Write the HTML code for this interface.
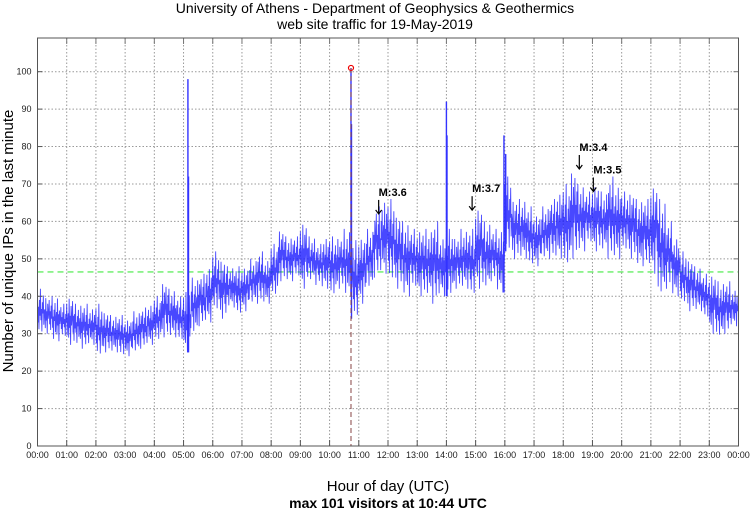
<!DOCTYPE html>
<html><head><meta charset="utf-8"><style>
body{margin:0;background:#fff;width:750px;height:511px;overflow:hidden}
svg text{font-family:"Liberation Sans",sans-serif}
</style></head><body>
<svg id="chart" width="750" height="511" viewBox="0 0 750 511" xmlns="http://www.w3.org/2000/svg">
<text x="375" y="13" font-size="14" text-anchor="middle">University of Athens - Department of Geophysics &amp; Geothermics</text>
<text x="375" y="29" font-size="14" text-anchor="middle">web site traffic for 19-May-2019</text>
<text x="388" y="491" font-size="15" text-anchor="middle">Hour of day (UTC)</text>
<text x="388" y="508" font-size="14" font-weight="bold" text-anchor="middle">max 101 visitors at 10:44 UTC</text>
<text transform="translate(13,241) rotate(-90)" font-size="15" text-anchor="middle">Number of unique IPs in the last minute</text>
<g id="grid"></g><g id="series"></g><g id="ann"></g><g id="axes"></g>
</svg>
<script>
const hoursLo=[30,30,28,29,27,27,26,27,24,25,25,24,24,25,26,27,28,29,29,28,25,30,32,33,36,34,37,35,36,38,38,38,40,44,44,45,42,44,43,42,40,42,40,34,38,42,45,46,44,42,40,42,40,40,38,40,40,42,42,40,42,42,44,41,52,50,50,48,48,50,50,50,48,50,52,54,52,52,50,50,52,50,48,48,46,40,42,40,38,36,36,34,30,29,30,32];
const hoursHi=[42,40,40,38,40,38,38,37,38,36,35,35,34,36,37,38,40,44,42,40,42,45,46,48,52,50,48,48,48,50,52,50,54,58,56,56,60,56,54,56,56,56,58,55,56,58,64,66,66,62,60,58,58,58,60,56,58,56,58,58,64,60,58,58,72,66,66,64,62,64,66,68,70,74,70,68,70,68,72,70,68,68,66,66,70,66,60,56,52,50,48,46,46,44,44,42];
const spikeTimes=[5.15,5.17,10.733,10.75,14.0,14.02,15.97,16.03];
const spikeValues=[98,72,101,86,92,83,83,78];
const yTicks=[0,10,20,30,40,50,60,70,80,90,100];
const xTickLabels=["00:00","01:00","02:00","03:00","04:00","05:00","06:00","07:00","08:00","09:00","10:00","11:00","12:00","13:00","14:00","15:00","16:00","17:00","18:00","19:00","20:00","21:00","22:00","23:00","00:00"];
const avgValue=46.5, maxTime=10.733, maxValue=101;
const quakeLabels=["M:3.6","M:3.7","M:3.4","M:3.5"];
const quakeTimes=[11.68,14.88,18.55,19.03];
const quakeValues=[62,63,74,68];

const L=37.5,R=738.5,T=38,B=446;
const X=h=>L+(R-L)*h/24;
const Y=v=>B-(v/109)*(B-T);
const NS="http://www.w3.org/2000/svg";
function mk(tag,parent,attrs){const e=document.createElementNS(NS,tag);for(const k in attrs)e.setAttribute(k,attrs[k]);document.getElementById(parent).appendChild(e);return e;}

yTicks.forEach(v=>{
  const g=mk('line','grid',{x1:L,x2:R,y1:Y(v),y2:Y(v),stroke:'#999','stroke-dasharray':'1.5,2','stroke-width':1});
  
  
  const t=mk('text','axes',{x:L-6,y:Y(v)+3,'font-size':9,'text-anchor':'end',fill:'#222'});t.textContent=v;
  
  
  mk('line','axes',{x1:L,x2:L+5,y1:Y(v),y2:Y(v),stroke:'#555'});
  mk('line','axes',{x1:R-5,x2:R,y1:Y(v),y2:Y(v),stroke:'#777'});
});
xTickLabels.forEach((s,i)=>{
  if(i>0&&i<24){const g=mk('line','grid',{x1:X(i),x2:X(i),y1:T,y2:B,stroke:'#999','stroke-dasharray':'1.5,2','stroke-width':1});
  
  }
  mk('line','axes',{x1:X(i),x2:X(i),y1:B-6,y2:B,stroke:'#555'});
  mk('line','axes',{x1:X(i),x2:X(i),y1:T,y2:T+6,stroke:'#777'});
  const t=mk('text','axes',{x:X(i),y:B+12,'font-size':9,'text-anchor':'middle',fill:'#222'});t.textContent=s;
  
  
});
const fr=mk('rect','axes',{x:L,y:T,width:R-L,height:B-T,fill:'none',stroke:'#555','stroke-width':1});



const avg=mk('line','series',{x1:L,x2:R,y1:Y(avgValue),y2:Y(avgValue),stroke:'#66ee66','stroke-dasharray':'6,4','stroke-width':1.3});



// jitter pattern: fixed fractional positions within each bin's range (style only)
const pat=[0.9,0.25,0.6,0.1,0.75,0.4,1,0.3,0.55,0.05,0.7,0.45,0.85,0.2,0.5,0.65,0.15,0.95,0.35,0.6,0,0.8,0.4,0.55];
const n=hoursLo.length, bw=24/n, sub=15;
let pts=[], c=0;
for(let i=0;i<n;i++){for(let k=0;k<sub;k++){
  const h=i*bw+bw*k/sub; const f=pat[(c++)%pat.length];
  const v=hoursLo[i]+(hoursHi[i]-hoursLo[i])*f;
  pts.push(X(h).toFixed(2)+','+Y(v).toFixed(1));}}
const pl=mk('polyline','series',{points:pts.join(' '),fill:'none',stroke:'#1a1aff','stroke-width':0.9,'stroke-opacity':0.8});


spikeTimes.forEach((h,i)=>{
  const s=mk('line','series',{x1:X(h),x2:X(h),y1:Y(hoursLo[Math.floor(h/bw)]),y2:Y(spikeValues[i]),stroke:'#3333ff','stroke-width':1.4});
  
  
});
const ml=mk('line','ann',{x1:X(maxTime),x2:X(maxTime),y1:Y(maxValue),y2:B,stroke:'#884444','stroke-dasharray':'5,3','stroke-width':1});


const mc=mk('circle','ann',{cx:X(maxTime),cy:Y(maxValue),r:2.5,fill:'none',stroke:'#e00','stroke-width':1.2});


quakeLabels.forEach((s,i)=>{
  const x=X(quakeTimes[i]), y=Y(quakeValues[i]);
  const a=mk('line','ann',{x1:x,x2:x,y1:y-14,y2:y,stroke:'#000','stroke-width':1.2});
  
  
  const ah=mk('path','ann',{d:`M${x-3},${y-4} L${x},${y} L${x+3},${y-4}`,fill:'none',stroke:'#000','stroke-width':1.2});
  
  
  const t=mk('text','ann',{x:x,y:y-18,'font-size':11,'font-weight':'bold'});t.textContent=s;
  
  
});
</script>
</body></html>
